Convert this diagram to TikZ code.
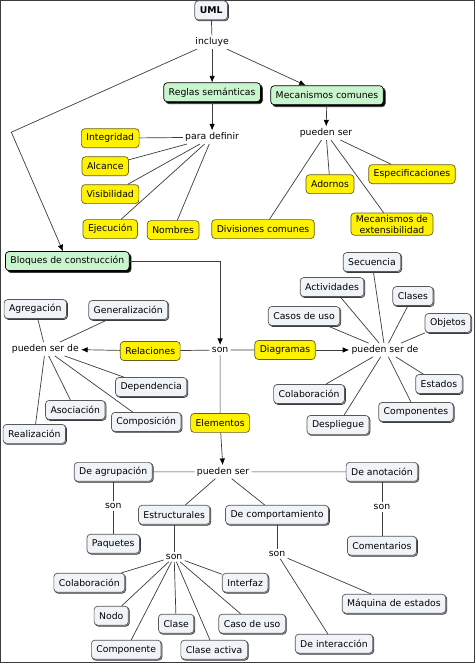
\documentclass[tikz,border=0pt]{standalone}
\usepackage{fontspec}
\setmainfont{DejaVu Sans}
\usepackage{tikz}
\definecolor{cmgreen}{RGB}{200,245,205}
\definecolor{cmgray}{RGB}{240,244,248}
\definecolor{cmyelline}{RGB}{100,95,35}
\definecolor{cmline}{RGB}{60,60,60}
\usetikzlibrary{arrows, arrows.meta, shapes, shadows}

\begin{document}
\begin{tikzpicture}[x=1pt, y=-1pt, >={Latex[length=6.5pt, width=5.5pt, color=black]},   %Pixelkoordinaten, y nach unten
					font=\fontsize{9.3}{11}\selectfont,
					box/.style={draw, rounded corners=3.5pt, minimum height=19pt, inner xsep=5pt, inner ysep=3pt},
					grn/.style={box, fill=cmgreen, draw=black, drop shadow={shadow xshift=2pt, shadow yshift=-2pt, fill=black, opacity=1}},
					yel/.style={box, fill=yellow, draw=cmyelline},
					gry/.style={box, fill=cmgray, draw=black!65, drop shadow={shadow xshift=1pt, shadow yshift=-1pt, fill=black!30, opacity=1}},
					lnk/.style={inner sep=2pt},
					every path/.style={draw=cmline, line width=0.7pt}]
					\useasboundingbox[fill=white] (0,0) rectangle (474,663);
					% oben
					\node[gry, font=\fontsize{9.3}{11}\selectfont\bfseries] (uml) at (211,10) {UML};
					\node[lnk] (incluye) at (212,42) {incluye};
					\node[grn] (reglas) at (212,92) {Reglas semánticas};
					\node[grn] (mecanismos) at (327,95) {Mecanismos comunes};
					\node[grn] (bloques) at (67,261) {Bloques de construcción};
					\node[lnk] (paradef) at (212,137) {para definir};
					\node[lnk] (puedenA) at (326,133) {pueden ser};
					\node[yel] (integridad) at (110,138) {Integridad};
					\node[yel] (alcance) at (105,166) {Alcance};
					\node[yel] (visibilidad) at (110,194) {Visibilidad};
					\node[yel] (ejecucion) at (110,229) {Ejecución};
					\node[yel] (nombres) at (173,230) {Nombres};
					\node[yel] (divisiones) at (263,229) {Divisiones comunes};
					\node[yel] (adornos) at (330,184) {Adornos};
					\node[yel] (especif) at (412,174) {Especificaciones};
					\node[yel, align=center, inner ysep=2pt] (extens) at (392,224) {Mecanismos de\\extensibilidad};
					\coordinate (knick) at (11,132);
					\draw (uml) -- (incluye);
					\draw[->] (incluye) -- (reglas);
					\draw[->] (incluye) -- (mecanismos);
					\draw[->] (incluye) -- (knick) -- (bloques);
					\draw[->] (reglas) -- (paradef);
					\draw[->] (mecanismos) -- (puedenA);
					\draw (paradef) -- (integridad) (paradef) -- (alcance) (paradef) -- (visibilidad)
						(paradef) -- (ejecucion) (paradef) -- (nombres);
					\draw (puedenA) -- (divisiones) (puedenA) -- (adornos) (puedenA) -- (extens) (puedenA) -- (especif);
					% mitte
					\node[lnk] (son) at (220,350) {son};
					\node[yel] (relaciones) at (150,351) {Relaciones};
					\node[yel] (diagramas) at (285,350) {Diagramas};
					\node[yel] (elementos) at (220,423) {Elementos};
					\node[lnk] (puedenL) at (45,349) {pueden ser de};
					\node[lnk] (puedenR) at (385,350) {pueden ser de};
					\node[gry] (agregacion) at (35,309) {Agregación};
					\node[gry] (generaliz) at (128,310) {Generalización};
					\node[gry] (dependencia) at (151,387) {Dependencia};
					\node[gry] (asociacion) at (75,410) {Asociación};
					\node[gry] (composicion) at (146,422) {Composición};
					\node[gry] (realizacion) at (34,434) {Realización};
					\node[gry] (secuencia) at (372,262) {Secuencia};
					\node[gry] (actividades) at (332,287) {Actividades};
					\node[gry] (clases) at (413,296) {Clases};
					\node[gry] (casosuso) at (304,316) {Casos de uso};
					\node[gry] (objetos) at (448,323) {Objetos};
					\node[gry] (estados) at (439,384) {Estados};
					\node[gry] (colabD) at (309,394) {Colaboración};
					\node[gry] (componentes) at (416,412) {Componentes};
					\node[gry] (despliegue) at (338,425) {Despliegue};
					\draw[->] (bloques) -| (son);
					\draw (son) -- (relaciones) (son) -- (diagramas) (son) -- (elementos);
					\draw[->] (relaciones) -- (puedenL);
					\draw[->] (diagramas) -- (puedenR);
					\draw (puedenL) -- (agregacion) (puedenL) -- (generaliz) (puedenL) -- (dependencia)
						(puedenL) -- (asociacion) (puedenL) -- (composicion) (puedenL) -- (realizacion);
					\draw (puedenR) -- (secuencia) (puedenR) -- (actividades) (puedenR) -- (clases)
						(puedenR) -- (casosuso) (puedenR) -- (objetos) (puedenR) -- (estados)
						(puedenR) -- (colabD) (puedenR) -- (componentes) (puedenR) -- (despliegue);
					% unten
					\node[lnk] (puedenE) at (223,472) {pueden ser};
					\node[gry] (agrupacion) at (113,472) {De agrupación};
					\node[gry] (anotacion) at (382,472) {De anotación};
					\node[lnk] (sonG) at (113,506) {son};
					\node[gry] (paquetes) at (113,544) {Paquetes};
					\node[lnk] (sonA) at (382,507) {son};
					\node[gry] (comentarios) at (382,546) {Comentarios};
					\node[gry] (estruct) at (174,515) {Estructurales};
					\node[gry] (comport) at (277,515) {De comportamiento};
					\node[lnk] (sonS) at (174,557) {son};
					\node[lnk] (sonC) at (277,554) {son};
					\node[gry] (colabE) at (89,583) {Colaboración};
					\node[gry] (interfaz) at (245,583) {Interfaz};
					\node[gry] (nodo) at (111,616) {Nodo};
					\node[gry] (clase) at (176,624) {Clase};
					\node[gry] (casouso) at (252,624) {Caso de uso};
					\node[gry] (componente) at (126,650) {Componente};
					\node[gry] (claseact) at (214,650) {Clase activa};
					\node[gry] (maquina) at (394,604) {Máquina de estados};
					\node[gry] (interaccion) at (334,644) {De interacción};
					\draw[->] (elementos) -- (puedenE);
					\draw (puedenE) -- (agrupacion) (puedenE) -- (anotacion) (puedenE) -- (estruct) (puedenE) -- (comport);
					\draw (agrupacion) -- (sonG) -- (paquetes);
					\draw (anotacion) -- (sonA) -- (comentarios);
					\draw (estruct) -- (sonS) (comport) -- (sonC);
					\draw (sonS) -- (colabE) (sonS) -- (interfaz) (sonS) -- (nodo) (sonS) -- (clase)
						(sonS) -- (casouso) (sonS) -- (componente) (sonS) -- (claseact);
					\draw (sonC) -- (maquina) (sonC) -- (interaccion);
				\end{tikzpicture}
\end{document}
